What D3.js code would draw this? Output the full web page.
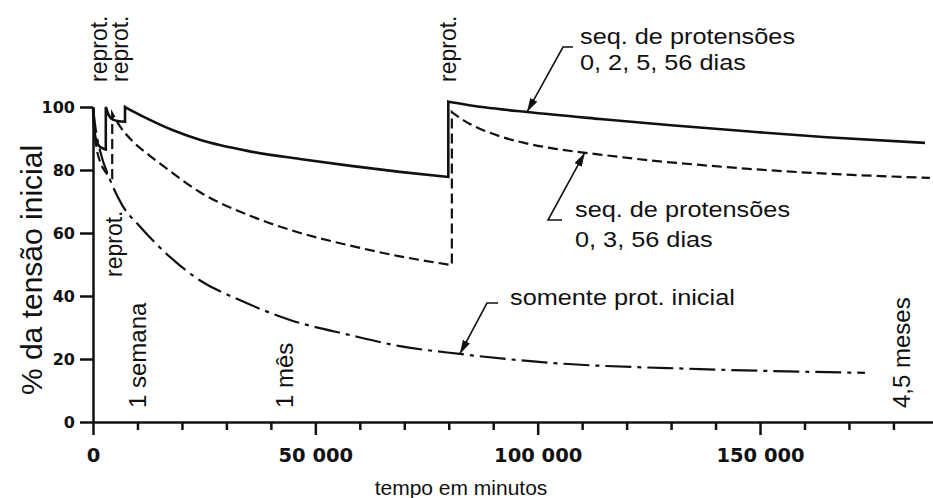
<!DOCTYPE html>
<html><head><meta charset="utf-8">
<script src="https://cdn.jsdelivr.net/npm/d3@7"></script>
<style>
html,body{margin:0;padding:0;background:#fff;}
svg{display:block;}
</style></head><body>
<svg id="c" width="933" height="498"></svg>
<script>
// ---- data (time in minutes, % of initial tension) ----
// solid: sequence of prestressing 0, 2, 5, 56 days
const solidSeg1 = [[0,100],[200,94],[600,90],[1200,88],[2000,87],[2880,86.5]];
const solidSeg2 = [[2880,100],[3500,97.5],[4500,96],[5800,95.5],[7200,95.3]];
const solidSeg3 = [[7200,100],[9000,98.6],[12800,95.9],[18000,92.6],[24000,89.6],[35000,86.0],[46500,83.5],[58000,81.3],[69000,79.4],[79900,77.8]];
const solidSeg4 = [[79900,101.7],[88000,99.9],[97600,98.4],[114000,96.2],[130000,94.2],[147700,92.2],[165000,90.4],[187100,88.6]];
// dashed: sequence 0, 3, 56 days
const dashedSeg1 = [[0,100],[300,93],[800,87],[1500,83],[2500,80],[4320,77.5]];
const dashedSeg2 = [[4320,98],[6000,94],[9000,89],[12800,84.5],[17000,80.0],[24000,73.0],[35300,65.5],[44300,61],[57800,56],[69000,52.6],[80700,49.8]];
const dashedSeg3 = [[80700,98.4],[84000,95.2],[87500,92.8],[91500,90.7],[97000,88.6],[102800,87.0],[114000,84.9],[125000,83.1],[136500,81.6],[159000,79.3],[188200,77.5]];
// dash-dot: only initial prestressing
const dashDotSeg1 = [[0,100],[700,92],[1600,86],[3800,77],[6500,69],[10600,62],[17300,52.4],[24000,45],[33000,38.7],[44300,32.4],[57800,27.6],[69000,24.1],[82500,21.6],[102800,18.8],[136500,16.8],[173600,15.6]];

const yTicks = [0,20,40,60,80,100];
const xMajorTicks = [0,50000,100000,150000];
const xTickLabels = ["0","50 000","100 000","150 000"];
const xMinorTicks = [10000,20000,30000,40000,60000,70000,80000,90000,110000,120000,130000,140000,160000,170000,180000];
const xMax = 188900;

// time markers (minutes) and labels
const markerTimes = [10080, 43200, 182000];
const markerLabels = ["1 semana", "1 mês", "4,5 meses"];
// re-prestressing labels (minutes)
const reprotTimes = [2880, 7200, 80300];
const reprotLowTime = 4320;
// arrow tips [t, v] on the curves
const arrowTips = [[97600,98.4],[110600,85.5],[82500,21.6]];

// ---- chart ----
const svg = d3.select("#c");
const x = d3.scaleLinear().domain([0,xMax]).range([93,933]);
const y = d3.scaleLinear().domain([0,100]).range([422,107]);
const ink = "#111";

svg.append("defs").append("marker")
  .attr("id","ah").attr("viewBox","0 0 14 8").attr("refX",14).attr("refY",4)
  .attr("markerWidth",14).attr("markerHeight",8).attr("markerUnits","userSpaceOnUse")
  .attr("orient","auto")
  .append("path").attr("d","M0,0L14,4L0,8Z").attr("fill",ink);

// axes
const gx = svg.append("g").attr("transform",`translate(0,${y(0)})`)
  .call(d3.axisBottom(x).tickValues(xMajorTicks).tickSize(13).tickSizeOuter(0).tickPadding(13)
    .tickFormat((d,i)=>xTickLabels[i]));
const gxm = svg.append("g").attr("transform",`translate(0,${y(0)})`)
  .call(d3.axisBottom(x).tickValues(xMinorTicks).tickSize(8).tickSizeOuter(0).tickFormat(""));
gxm.select(".domain").remove();
const gy = svg.append("g").attr("transform",`translate(${x(0)},0)`)
  .call(d3.axisLeft(y).tickValues(yTicks).tickSize(13).tickSizeOuter(0).tickPadding(5));
[gx,gxm,gy].forEach(g=>{
  g.selectAll("path,line").attr("stroke",ink).attr("stroke-width",2.5);
  g.selectAll("text").attr("fill",ink).style("font-family","'DejaVu Sans'").style("font-weight","bold");
});
gx.selectAll("text").style("font-size","19.5px");
gy.selectAll("text").style("font-size","16px");

// curves
const line = d3.line().x(d=>x(d[0])).y(d=>y(d[1])).curve(d3.curveMonotoneX);
function pathFor(segs){
  return segs.map((s,i)=>{const p=line(s); return i? "L"+p.slice(1) : p;}).join("");
}
svg.append("path").attr("d",pathFor([dashDotSeg1])).attr("fill","none")
  .attr("stroke",ink).attr("stroke-width",2.2).attr("stroke-dasharray","26,6,4,6");
svg.append("path").attr("d",pathFor([dashedSeg1,dashedSeg2,dashedSeg3])).attr("fill","none")
  .attr("stroke",ink).attr("stroke-width",2.2).attr("stroke-dasharray","10,5");
svg.append("path").attr("d",pathFor([solidSeg1,solidSeg2,solidSeg3,solidSeg4])).attr("fill","none")
  .attr("stroke",ink).attr("stroke-width",2.6);

// text helpers
const FONT = "'Liberation Sans', Arial, sans-serif";
function vText(str, bx, sy, size, anchor){
  svg.append("text").attr("transform",`translate(${bx},${sy}) rotate(-90)`)
    .attr("text-anchor",anchor||"start").style("font-family",FONT).style("font-size",size+"px")
    .attr("fill",ink).text(str);
}
function hText(str, px, py, size){
  svg.append("g").attr("transform",`translate(${px},${py}) scale(1.15,1)`)
    .append("text").style("font-family",FONT).style("font-size",size+"px").attr("fill",ink).text(str);
}

// axis titles
vText("% da tensão inicial", 42, 270, 30, "middle");
svg.append("text").attr("x",461).attr("y",495).attr("text-anchor","middle")
  .style("font-family",FONT).style("font-size","21px").attr("fill",ink).text("tempo em minutos");

// reprot labels
vText("reprot.", x(reprotTimes[0])+1, 82, 23);
vText("reprot.", x(reprotTimes[1])+3, 82, 23);
vText("reprot.", x(reprotTimes[2])+6, 82, 23);
vText("reprot.", x(reprotLowTime)+10, 277, 23);

// time markers
markerLabels.forEach((s,i)=>vText(s, x(markerTimes[i])+8, 408, 24));

// annotations
hText("seq. de protensões", 580, 44, 22);
hText("0, 2, 5, 56 dias", 580, 70, 22);
hText("seq. de protensões", 575, 217, 22);
hText("0, 3, 56 dias", 575, 247, 22);
hText("somente prot. inicial", 510, 305, 22);

const arrowElbows = [[[573,47],[563,47]],[[562,220],[548,220]],[[498,303],[487,303]]];
arrowElbows.forEach((el,i)=>{
  const tip=[x(arrowTips[i][0]), y(arrowTips[i][1])];
  svg.append("path").attr("d", d3.line()([...el, tip])).attr("fill","none")
    .attr("stroke",ink).attr("stroke-width",1.6).attr("marker-end","url(#ah)");
});
</script>
</body></html>
